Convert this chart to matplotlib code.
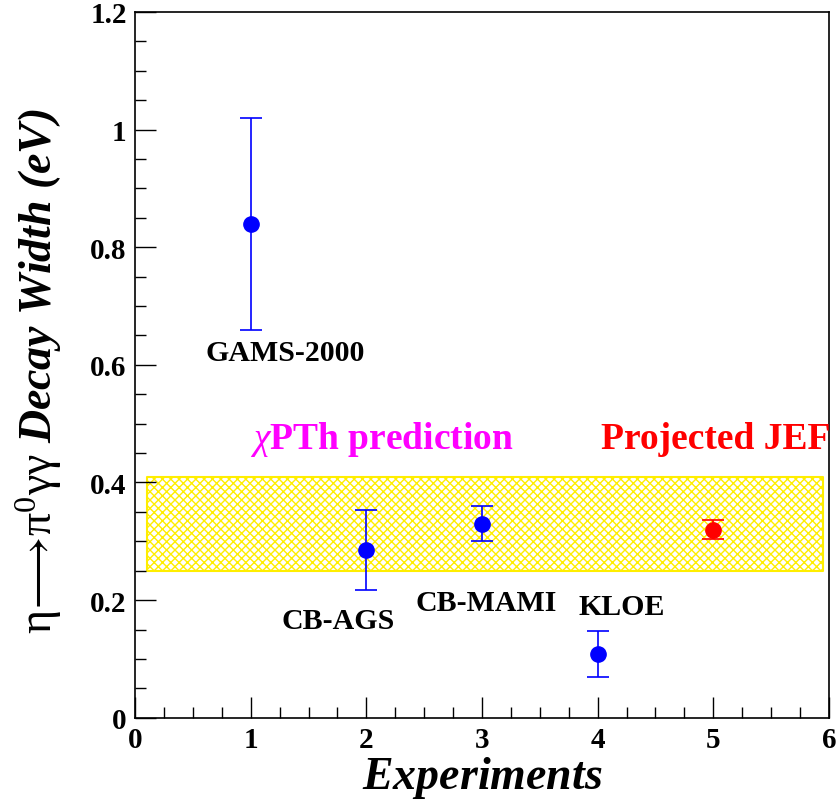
import numpy as np
import matplotlib.pyplot as plt
from matplotlib.ticker import MultipleLocator

plt.rcParams['font.family'] = ['Liberation Serif', 'DejaVu Serif']
plt.rcParams['mathtext.fontset'] = 'custom'
plt.rcParams['mathtext.rm'] = 'Liberation Serif'
plt.rcParams['mathtext.it'] = 'Liberation Serif:italic'
plt.rcParams['mathtext.bf'] = 'Liberation Serif:bold'
plt.rcParams['mathtext.bfit'] = 'Liberation Serif:bold:italic'
plt.rcParams['hatch.linewidth'] = 1.0

# measurements
names = ['GAMS-2000', 'CB-AGS', 'CB-MAMI', 'KLOE']
x_meas = [1, 2, 3, 4]
width_meas = [0.84, 0.285, 0.33, 0.109]
err_meas = [0.18, 0.068, 0.03, 0.039]

# projection
x_jef = [5]
width_jef = [0.32]
err_jef = [0.016]

# ChPT band
band_x = [0.1, 5.95]
band_lo, band_hi = 0.25, 0.41

fig = plt.figure(figsize=(8.39, 8.04), dpi=100)
ax = fig.add_axes([0.161, 0.106, 0.827, 0.878])

ax.fill_between(band_x, band_lo, band_hi, facecolor='none', edgecolor='#ffee00',
                hatch='xxxx', linewidth=1.5, zorder=1)

ax.errorbar(x_meas, width_meas, yerr=err_meas, fmt='o', color='blue', ms=11,
            elinewidth=1.2, capsize=8, capthick=1.2, zorder=3)
ax.errorbar(x_jef, width_jef, yerr=err_jef, fmt='o', color='red', ms=11,
            elinewidth=1.2, capsize=8, capthick=1.2, zorder=3)

lab_pos = [(1.30, 0.621), (1.76, 0.165), (3.04, 0.196), (4.21, 0.189)]
for n, (tx, ty) in zip(names, lab_pos):
    ax.text(tx, ty, n, ha='center', va='center', fontsize=21.5, fontweight='bold')
ax.text(2.13, 0.475, r'$\chi$PTh prediction', ha='center', va='center',
        fontsize=27, fontweight='bold', color='magenta')
ax.text(5.02, 0.475, 'Projected JEF', ha='center', va='center',
        fontsize=27, fontweight='bold', color='red')

ax.set_xlim(0, 6)
ax.set_ylim(0, 1.2)
ax.xaxis.set_major_locator(MultipleLocator(1))
ax.xaxis.set_minor_locator(MultipleLocator(0.25))
ax.yaxis.set_major_locator(MultipleLocator(0.2))
ax.yaxis.set_minor_locator(MultipleLocator(0.05))
ax.set_yticks([0, 0.2, 0.4, 0.6, 0.8, 1.0, 1.2])
ax.set_yticklabels(['0', '0.2', '0.4', '0.6', '0.8', '1', '1.2'])
ax.tick_params(which='both', direction='in', top=False, right=False,
               labelsize=21, width=1)
ax.tick_params(which='major', length=15, pad=6)
ax.tick_params(which='minor', length=8)
for lab in ax.get_xticklabels() + ax.get_yticklabels():
    lab.set_fontweight('bold')
for s in ax.spines.values():
    s.set_linewidth(1.2)

ax.set_xlabel(r'$\mathbfit{Experiments}$', fontsize=33)
ax.xaxis.set_label_coords(0.5, -0.052)
ax.set_ylabel(r'$\mathrm{\eta\!\longrightarrow\!\pi^0\gamma\gamma}$ $\mathbfit{Decay\ Width\ (eV)}$',
              fontsize=33)
ax.yaxis.set_label_coords(-0.103, 0.493)

fig.savefig('out.png', dpi=100)
